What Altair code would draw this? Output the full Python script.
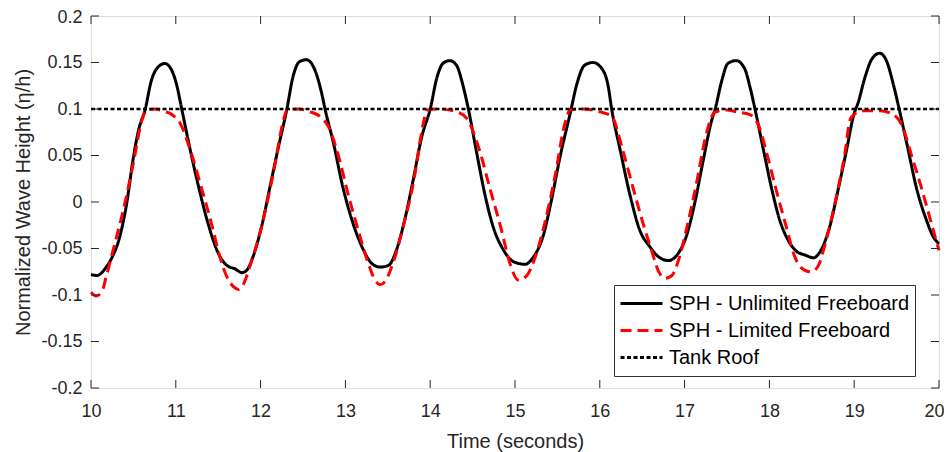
import altair as alt
import pandas as pd

FONT = "Liberation Sans"

series_names = ["SPH - Unlimited Freeboard", "SPH - Limited Freeboard", "Tank Roof"]

black_t = [10.00, 10.07, 10.18, 10.24, 10.34, 10.42, 10.50, 10.56, 10.64, 10.71, 10.79, 10.87, 10.95,
           11.01, 11.07, 11.17, 11.27, 11.38, 11.50, 11.60, 11.70, 11.78, 11.84, 11.91, 12.01, 12.11,
           12.21, 12.31, 12.38, 12.46, 12.54, 12.64, 12.72, 12.76, 12.86, 12.97, 13.09, 13.21, 13.31,
           13.41, 13.51, 13.60, 13.70, 13.80, 13.90, 14.00, 14.08, 14.15, 14.23, 14.31, 14.39, 14.45,
           14.55, 14.65, 14.74, 14.86, 14.98, 15.12, 15.21, 15.33, 15.43, 15.53, 15.65, 15.73, 15.82,
           15.92, 16.02, 16.10, 16.14, 16.24, 16.36, 16.47, 16.59, 16.68, 16.81, 16.91, 17.02, 17.12,
           17.22, 17.32, 17.36, 17.44, 17.51, 17.61, 17.71, 17.77, 17.83, 17.93, 18.03, 18.12, 18.22,
           18.32, 18.42, 18.52, 18.60, 18.71, 18.81, 18.91, 18.99, 19.05, 19.13, 19.21, 19.30, 19.38,
           19.46, 19.53, 19.62, 19.74, 19.85, 19.93, 20.00]
black_y = [-0.078, -0.079, -0.070, -0.061, -0.037, -0.002, 0.048, 0.077, 0.100, 0.130, 0.145, 0.149, 0.142,
           0.126, 0.100, 0.056, 0.016, -0.023, -0.055, -0.068, -0.072, -0.076, -0.073, -0.059, -0.027, 0.016,
           0.059, 0.100, 0.134, 0.151, 0.153, 0.142, 0.117, 0.100, 0.063, 0.016, -0.023, -0.051, -0.066,
           -0.070, -0.068, -0.052, -0.019, 0.024, 0.070, 0.100, 0.134, 0.149, 0.152, 0.147, 0.124, 0.100,
           0.052, 0.006, -0.026, -0.051, -0.064, -0.067, -0.060, -0.037, 0.002, 0.048, 0.095, 0.127, 0.147,
           0.150, 0.144, 0.124, 0.100, 0.056, 0.006, -0.030, -0.048, -0.058, -0.063, -0.057, -0.037, -0.001,
           0.045, 0.088, 0.100, 0.131, 0.149, 0.152, 0.143, 0.124, 0.100, 0.056, 0.013, -0.019, -0.041,
           -0.053, -0.057, -0.060, -0.053, -0.027, 0.013, 0.056, 0.092, 0.108, 0.135, 0.154, 0.160, 0.152,
           0.127, 0.100, 0.063, 0.013, -0.019, -0.037, -0.045]

red_t = [10.00, 10.06, 10.13, 10.18, 10.26, 10.38, 10.50, 10.60, 10.66, 10.75, 10.85, 10.97, 11.05,
         11.17, 11.30, 11.42, 11.52, 11.60, 11.68, 11.74, 11.80, 11.87, 12.01, 12.15, 12.27, 12.31,
         12.45, 12.58, 12.70, 12.80, 12.92, 13.03, 13.15, 13.27, 13.35, 13.41, 13.47, 13.56, 13.68,
         13.80, 13.92, 13.96, 14.10, 14.31, 14.43, 14.58, 14.70, 14.84, 14.94, 15.04, 15.14, 15.24,
         15.35, 15.47, 15.59, 15.65, 15.80, 16.00, 16.14, 16.27, 16.39, 16.51, 16.61, 16.69, 16.77,
         16.85, 16.93, 17.02, 17.14, 17.24, 17.32, 17.37, 17.50, 17.61, 17.77, 17.87, 17.97, 18.08,
         18.20, 18.30, 18.38, 18.48, 18.56, 18.67, 18.79, 18.89, 18.95, 19.01, 19.11, 19.30, 19.46,
         19.56, 19.68, 19.80, 19.91, 20.00]
red_y = [-0.097, -0.101, -0.096, -0.080, -0.052, -0.009, 0.042, 0.088, 0.099, 0.100, 0.098, 0.093, 0.085,
         0.056, 0.016, -0.023, -0.059, -0.080, -0.091, -0.094, -0.088, -0.070, -0.027, 0.031, 0.088, 0.099,
         0.100, 0.097, 0.092, 0.081, 0.049, 0.009, -0.030, -0.066, -0.084, -0.089, -0.085, -0.066, -0.027,
         0.020, 0.085, 0.099, 0.100, 0.097, 0.090, 0.056, 0.016, -0.030, -0.066, -0.084, -0.079, -0.059,
         -0.023, 0.027, 0.085, 0.099, 0.100, 0.097, 0.092, 0.056, 0.016, -0.023, -0.052, -0.074, -0.082,
         -0.079, -0.062, -0.030, 0.020, 0.067, 0.092, 0.097, 0.099, 0.097, 0.094, 0.083, 0.052, 0.013,
         -0.027, -0.059, -0.071, -0.075, -0.071, -0.041, 0.006, 0.052, 0.088, 0.095, 0.098, 0.098, 0.094,
         0.083, 0.049, 0.013, -0.023, -0.052]

roof_t = [10, 20]
roof_y = [0.1, 0.1]

x_ticks = [10, 11, 12, 13, 14, 15, 16, 17, 18, 19, 20]
y_ticks = [-0.2, -0.15, -0.1, -0.05, 0, 0.05, 0.1, 0.15, 0.2]

W, H = 848, 372
TICK_LEN = 8
TEXT = "#262626"

df_black = pd.DataFrame({"t": black_t, "y": black_y, "series": series_names[0]})
df_red = pd.DataFrame({"t": red_t, "y": red_y, "series": series_names[1]})
df_roof = pd.DataFrame({"t": roof_t, "y": roof_y, "series": series_names[2]})
df_xt = pd.DataFrame({"t": x_ticks})
df_yt = pd.DataFrame({"y": y_ticks})

x_scale = alt.Scale(domain=[10, 20], nice=False, zero=False)
y_scale = alt.Scale(domain=[-0.2, 0.2], nice=False, zero=False)

last_x = x_ticks[-1]
top_y = y_ticks[-1]
x_axis = alt.Axis(values=x_ticks, ticks=False, tickSize=0, domain=False, grid=False,
                  labelFontSize=18, labelFont=FONT, labelColor=TEXT, labelPadding=28,
                  labelBaseline="alphabetic", labelFlush=False, labelOverlap=False,
                  labelAlign={"condition": {"test": f"datum.value == {last_x}", "value": "right"}, "value": "center"},
                  labelOffset={"condition": {"test": f"datum.value == {last_x}", "value": 5}, "value": 0},
                  title="Time (seconds)", titleFontSize=20, titleFont=FONT, titleFontWeight="normal",
                  titleColor=TEXT, titleBaseline="alphabetic", titleX=W / 2, titleY=59, titleAlign="center")
y_axis = alt.Axis(values=y_ticks, ticks=False, tickSize=0, domain=False, grid=False,
                  labelFontSize=18, labelFont=FONT, labelColor=TEXT, labelPadding=9,
                  labelFlush=False, labelOverlap=False,
                  labelBaseline={"condition": {"test": f"datum.value == {top_y}", "value": "top"}, "value": "middle"},
                  labelOffset={"condition": {"test": f"datum.value == {top_y}", "value": -8}, "value": 0},
                  labelExpr="replace(format(datum.value, '~g'), '\u2212', '-')",
                  title="Normalized Wave Height (\u03b7/h)", titleFontSize=20, titleFont=FONT,
                  titleFontWeight="normal", titleColor=TEXT, titleAngle=-90, titleBaseline="alphabetic",
                  titleAlign="center", titleX=-62, titleY=H / 2)

legend = alt.Legend(title=None, orient="none", legendX=523, legendY=269, direction="vertical",
                    strokeColor="#333333", fillColor="white", padding=5, cornerRadius=0,
                    labelFontSize=20, labelFont=FONT, labelColor="#000000", symbolType="stroke",
                    symbolSize=1764, symbolStrokeWidth=3, clipHeight=27, rowPadding=0,
                    labelOffset=5, symbolOffset=0, labelLimit=400)

color = alt.Color("series:N", scale=alt.Scale(domain=series_names, range=["#000000", "#ff0000", "#000000"]),
                  legend=legend)
dash = alt.StrokeDash("series:N", scale=alt.Scale(domain=series_names, range=[[1, 0], [11, 6], [4, 2.5]]),
                      legend=legend)

X = alt.X("t:Q", scale=x_scale, axis=x_axis)
Y = alt.Y("y:Q", scale=y_scale, axis=y_axis)

black_line = alt.Chart(df_black).mark_line(strokeWidth=3, interpolate="monotone").encode(
    x=X, y=Y, color=color, strokeDash=dash)
red_line = alt.Chart(df_red).mark_line(strokeWidth=3, interpolate="monotone").encode(
    x=X, y=Y, color=color, strokeDash=dash)
roof_line = alt.Chart(df_roof).mark_line(strokeWidth=2.5).encode(
    x=X, y=Y, color=color, strokeDash=dash)

tick_mark = dict(color=TEXT, strokeWidth=1)
bottom_ticks = alt.Chart(df_xt).mark_rule(**tick_mark).encode(
    x=X, y=alt.value(H), y2=alt.value(H - TICK_LEN))
top_ticks = alt.Chart(df_xt).mark_rule(**tick_mark).encode(
    x=X, y=alt.value(0), y2=alt.value(TICK_LEN))
left_ticks = alt.Chart(df_yt).mark_rule(**tick_mark).encode(
    y=Y, x=alt.value(0), x2=alt.value(TICK_LEN))
right_ticks = alt.Chart(df_yt).mark_rule(**tick_mark).encode(
    y=Y, x=alt.value(W), x2=alt.value(W - TICK_LEN))

chart = alt.layer(black_line, red_line, roof_line, bottom_ticks, top_ticks, left_ticks, right_ticks).properties(
    width=W, height=H,
    padding={"left": 83, "top": 8, "right": 5, "bottom": 64},
    autosize=alt.AutoSizeParams(type="none"),
).configure_view(stroke="#444444", strokeWidth=1).configure(font=FONT)

chart.save("out.html", embed_options={"renderer": "svg", "actions": False})
